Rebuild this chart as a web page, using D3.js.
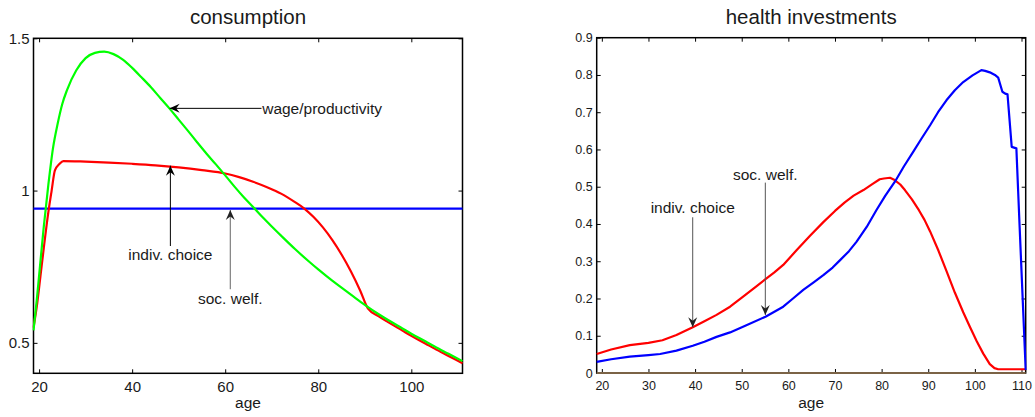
<!DOCTYPE html>
<html>
<head>
<meta charset="utf-8">
<script src="https://cdn.jsdelivr.net/npm/d3@7/dist/d3.min.js"></script>
<style>
  body { margin: 0; background: #fff; }
  svg { display: block; font-family: "Liberation Sans", Arial, Helvetica, sans-serif; }
  .title { font-size: 20.5px; fill: #1a1a1a; }
  .label { font-size: 15.5px; fill: #1a1a1a; }
  .note { font-size: 15.5px; fill: #1a1a1a; }
  .axis { color: #000; }
  .axis text { fill: #1a1a1a; }
  .cons .axis text { font-size: 15px; }
  .health .axis text { font-size: 12.5px; }
</style>
</head>
<body>
<svg id="chart"></svg>
<script>
//data: consumption panel//
var consWageAges = [18.8, 19.5, 20, 21, 22, 23, 24, 25, 26, 28, 30, 32, 34, 36, 38, 40, 42, 44, 46, 48, 50, 52, 54, 56, 58, 60, 62, 64, 66, 68, 70, 72, 75, 78, 80, 83, 85, 88, 90, 93, 95, 98, 100, 103, 105, 108, 111];
var consWage = [0.541, 0.64, 0.72, 0.88, 1.02, 1.14, 1.22, 1.285, 1.33, 1.395, 1.435, 1.452, 1.456, 1.448, 1.43, 1.403, 1.372, 1.34, 1.305, 1.27, 1.233, 1.196, 1.158, 1.121, 1.086, 1.05, 1.013, 0.978, 0.946, 0.913, 0.882, 0.852, 0.808, 0.767, 0.741, 0.704, 0.681, 0.647, 0.625, 0.594, 0.575, 0.548, 0.53, 0.505, 0.488, 0.464, 0.44];
var consIndivAges = [18.8, 19.6, 20.3, 21, 22, 22.7, 23.4, 24.4, 25.2, 30, 35, 40, 45, 50, 55, 60, 63, 66, 69, 72, 75, 77, 79, 81, 83, 85, 87, 89, 90.7, 93, 95, 98, 100, 103, 105, 108, 111];
var consIndiv = [0.55, 0.63, 0.72, 0.81, 0.93, 1.0, 1.066, 1.088, 1.097, 1.095, 1.092, 1.088, 1.083, 1.076, 1.067, 1.056, 1.044, 1.029, 1.011, 0.99, 0.962, 0.941, 0.913, 0.879, 0.838, 0.79, 0.735, 0.672, 0.612, 0.587, 0.568, 0.541, 0.523, 0.498, 0.481, 0.457, 0.433];
var consSocAges = [18.8, 111];
var consSoc = [0.941, 0.941];
var consXTicks = [20, 40, 60, 80, 100];
var consYTicks = [0.5, 1, 1.5];

//data: health investments panel//
var healthIndivAges = [18.9, 22, 26, 30, 33, 36, 39.5, 42, 44.6, 47.5, 50.3, 53, 55.1, 57, 58.9, 61.8, 64.6, 67.5, 70, 72.1, 74, 76.1, 78, 79.6, 80.5, 81.8, 82.8, 84, 85, 86.5, 88, 89.2, 90.4, 92.2, 93.9, 95.7, 97.5, 99, 100.4, 101.8, 103.2, 104.2, 105, 108, 110.9];
var healthIndiv = [0.051, 0.063, 0.075, 0.081, 0.088, 0.102, 0.123, 0.139, 0.156, 0.178, 0.205, 0.231, 0.252, 0.27, 0.29, 0.33, 0.368, 0.405, 0.435, 0.458, 0.476, 0.491, 0.507, 0.52, 0.522, 0.524, 0.518, 0.506, 0.491, 0.466, 0.437, 0.411, 0.38, 0.328, 0.274, 0.216, 0.163, 0.122, 0.085, 0.052, 0.024, 0.013, 0.01, 0.01, 0.01];
var healthSocAges = [18.9, 22, 26, 30, 32.5, 36, 39.5, 42, 44.6, 47.5, 51, 55.1, 58.9, 61, 63.2, 65.5, 67.5, 69.5, 71.1, 73, 74.6, 76.8, 78.9, 80.8, 82.85, 84.8, 86.8, 88.6, 90.4, 92.1, 93.9, 95.7, 97.5, 99.5, 101.4, 102.2, 103.2, 104.3, 105, 105.9, 106.5, 107, 107.9, 108.9, 109.6, 110.9];
var healthSoc = [0.030, 0.037, 0.044, 0.048, 0.051, 0.060, 0.073, 0.084, 0.097, 0.109, 0.128, 0.151, 0.178, 0.2, 0.223, 0.244, 0.263, 0.283, 0.303, 0.327, 0.352, 0.392, 0.4375, 0.476, 0.5135, 0.555, 0.594, 0.63, 0.665, 0.70, 0.732, 0.759, 0.781, 0.799, 0.813, 0.811, 0.807, 0.80, 0.793, 0.755, 0.75, 0.748, 0.607, 0.603, 0.392, 0.008];
var healthZeroAges = [18.9, 110.9];
var healthZero = [0, 0];
var healthXTicks = [20, 30, 40, 50, 60, 70, 80, 90, 100, 110];
var healthYTicks = [0, 0.1, 0.2, 0.3, 0.4, 0.5, 0.6, 0.7, 0.8, 0.9];

var screen = { width: 1035, height: 417 };
var svg = d3.select("#chart").attr("width", screen.width).attr("height", screen.height);

var defs = svg.append("defs");
//matlab style arrow head//
var addHead = function (id, color) {
  defs.append("marker")
    .attr("id", id)
    .attr("viewBox", "-11 -6 12 12")
    .attr("refX", 0).attr("refY", 0)
    .attr("markerWidth", 12).attr("markerHeight", 12)
    .attr("markerUnits", "userSpaceOnUse")
    .attr("orient", "auto")
    .append("path")
    .attr("d", "M0,0 L-10,-4.5 L-6.5,0 L-10,4.5 Z")
    .attr("fill", color);
};
addHead("headBlack", "#000");
addHead("headGray", "#222");

var makePanel = function (cls, box, xDomain, yDomain, xTicks, yTicks) {
  var g = svg.append("g").classed(cls, true);
  var x = d3.scaleLinear().domain(xDomain).range([box.left, box.right]);
  var y = d3.scaleLinear().domain(yDomain).range([box.bottom, box.top]);

  g.append("clipPath").attr("id", cls + "Clip")
    .append("rect")
    .attr("x", box.left - 1).attr("y", box.top - 1)
    .attr("width", box.right - box.left + 2)
    .attr("height", box.bottom - box.top + 2);

  var fmt = d3.format("");
  var axes = [
    { ax: d3.axisBottom(x).tickValues(xTicks).tickFormat(fmt), t: "translate(0," + box.bottom + ")" },
    { ax: d3.axisTop(x).tickValues(xTicks).tickFormat(""), t: "translate(0," + box.top + ")" },
    { ax: d3.axisLeft(y).tickValues(yTicks).tickFormat(fmt), t: "translate(" + box.left + ",0)" },
    { ax: d3.axisRight(y).tickValues(yTicks).tickFormat(""), t: "translate(" + box.right + ",0)" }
  ];
  axes.forEach(function (a, i) {
    var ag = g.append("g").classed("axis", true)
      .attr("transform", a.t)
      .call(a.ax.tickSizeInner(-4).tickSizeOuter(0).tickPadding(i == 0 ? 8 : 4));
    ag.select(".domain").remove();
  });

  g.append("rect")
    .attr("x", box.left).attr("y", box.top)
    .attr("width", box.right - box.left)
    .attr("height", box.bottom - box.top)
    .attr("fill", "none")
    .attr("stroke", "#000")
    .attr("stroke-width", 1.5);

  return { g: g, x: x, y: y };
};

var addLine = function (p, ages, vals, color, curve) {
  var pts = ages.map(function (a, i) { return [a, vals[i]]; });
  var line = d3.line()
    .x(function (d) { return p.x(d[0]); })
    .y(function (d) { return p.y(d[1]); })
    .curve(curve || d3.curveLinear);
  p.g.append("path")
    .datum(pts)
    .attr("clip-path", "url(#" + p.g.attr("class") + "Clip)")
    .attr("d", line)
    .attr("fill", "none")
    .attr("stroke", color)
    .attr("stroke-width", 2.2)
    .attr("stroke-linejoin", "round");
};

//arrow in data coords: from tail to tip//
var addArrow = function (p, a0, v0, a1, v1, color, head) {
  p.g.append("line")
    .attr("x1", p.x(a0)).attr("y1", p.y(v0))
    .attr("x2", p.x(a1)).attr("y2", p.y(v1))
    .attr("stroke", color)
    .attr("stroke-width", 1)
    .attr("marker-end", "url(#" + head + ")");
};

var addText = function (p, a, v, txt, anchor, dy) {
  p.g.append("text")
    .classed("note", true)
    .attr("x", p.x(a)).attr("y", p.y(v))
    .attr("dy", dy || 0)
    .attr("text-anchor", anchor)
    .text(txt);
};

var addTitles = function (p, box, title) {
  var cx = (box.left + box.right) / 2;
  p.g.append("text").classed("title", true)
    .attr("x", cx).attr("y", 24)
    .attr("text-anchor", "middle").text(title);
  p.g.append("text").classed("label", true)
    .attr("x", cx).attr("y", box.bottom + 34.5)
    .attr("text-anchor", "middle").text("age");
};

//left panel//
var consBox = { left: 33.5, right: 462.5, top: 38.3, bottom: 373.3 };
var cons = makePanel("cons", consBox, [18.8, 111], [0.4, 1.5], consXTicks, consYTicks);
addLine(cons, consSocAges, consSoc, "#0000ff");
addLine(cons, consIndivAges, consIndiv, "#ff0000", d3.curveMonotoneX);
addLine(cons, consWageAges, consWage, "#00ff00", d3.curveMonotoneX);
addTitles(cons, consBox, "consumption");

addArrow(cons, 67.8, 1.270, 48.07, 1.270, "#000", "headBlack");
addText(cons, 67.95, 1.270, "wage/productivity", "start", "0.35em");
addArrow(cons, 48.22, 0.818, 48.22, 1.0817, "#000", "headBlack");
addText(cons, 48.22, 0.772, "indiv. choice", "middle");
addArrow(cons, 61.09, 0.676, 61.09, 0.936, "#666", "headGray");
addText(cons, 61.09, 0.6276, "soc. welf.", "middle");

//right panel//
var healthBox = { left: 596.7, right: 1025.7, top: 37.7, bottom: 373 };
var health = makePanel("health", healthBox, [18.9, 110.9], [0, 0.9], healthXTicks, healthYTicks);
addLine(health, healthIndivAges, healthIndiv, "#ff0000");
addLine(health, healthSocAges, healthSoc, "#0000ff");
addLine(health, healthZeroAges, healthZero, "#7b6346");
addTitles(health, healthBox, "health investments");

addArrow(health, 39.49, 0.418, 39.49, 0.1227, "#555", "headGray");
addText(health, 39.49, 0.4287, "indiv. choice", "middle");
addArrow(health, 55.06, 0.511, 55.06, 0.1557, "#555", "headGray");
addText(health, 55.06, 0.518, "soc. welf.", "middle");
</script>
</body>
</html>
